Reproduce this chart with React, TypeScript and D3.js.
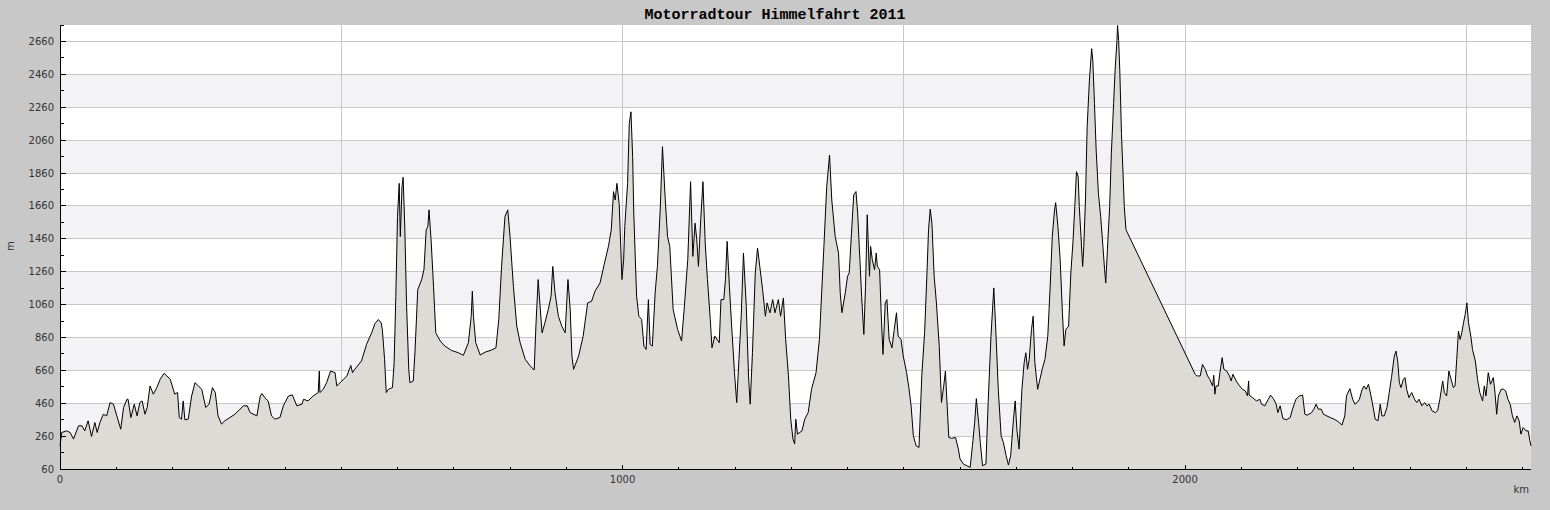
import * as d3 from "d3";
import React from "react";

// elevation profile in segments: [km, m]
const profileStart: [number, number][] = [
	[0, 201], [3, 282], [12, 292], [18, 282], [24, 242], [33, 323], [39, 323], [44, 292],
	[50, 353], [56, 258], [62, 343], [66, 282], [71, 343], [77, 393], [83, 383], [89, 464],
	[95, 454], [101, 383], [108, 302], [113, 434], [119, 484], [121, 484], [126, 373],
	[132, 454], [137, 383], [142, 464], [146, 474], [151, 393], [155, 434], [160, 565],
	[166, 515], [172, 555], [178, 605], [185, 642], [190, 626], [196, 605], [204, 515],
	[209, 525], [212, 373], [216, 363], [219, 474], [222, 359], [228, 363], [234, 504],
	[240, 585], [246, 565], [252, 545], [259, 434], [265, 454], [271, 555], [276, 525],
	[281, 383], [287, 333], [293, 353], [302, 373], [311, 393], [320, 424], [326, 444],
	[333, 444], [338, 403], [350, 383], [356, 504], [359, 519], [364, 494], [370, 474],
	[376, 383], [382, 363], [391, 373], [397, 444], [406, 504], [413, 511], [421, 444],
	[430, 454], [433, 484], [441, 474], [450, 504], [459, 525], [461, 656], [462, 525],
	[468, 545], [474, 585], [481, 656], [489, 646], [492, 565], [501, 595], [510, 626],
	[517, 690], [520, 646],
];

const profileAlps1: [number, number][] = [
	[524, 666], [536, 717], [545, 818], [554, 888], [560, 945], [566, 969], [571, 949],
	[573, 909], [577, 727], [580, 525], [584, 545], [591, 555], [594, 706], [597, 1110],
	[600, 1595], [603, 1797], [605, 1474], [608, 1777], [610, 1834], [613, 1525], [616, 1070],
	[620, 666], [622, 585], [628, 595], [631, 767], [636, 1151], [643, 1212], [647, 1272],
	[651, 1515], [654, 1535], [656, 1636], [660, 1434], [664, 1171], [668, 888], [676, 838],
	[684, 808], [696, 781], [708, 767], [717, 751], [726, 828], [731, 989], [733, 1141],
	[735, 989], [739, 828], [747, 753], [756, 771], [767, 783], [775, 797], [780, 969],
	[785, 1292], [791, 1595], [796, 1636], [800, 1474], [806, 1171], [812, 929], [818, 828],
	[827, 727], [836, 686], [843, 662], [846, 929], [850, 1212], [853, 1070], [857, 888],
	[862, 949], [868, 1030], [873, 1111], [876, 1292], [880, 1131], [886, 989], [892, 929],
	[898, 888], [903, 1212], [907, 1030], [910, 747], [913, 666], [922, 747], [930, 868],
	[938, 1070], [945, 1080], [951, 1141], [960, 1191], [968, 1313], [975, 1414], [980, 1515],
	[984, 1747], [987, 1696], [990, 1797], [994, 1676],
];

const profileAlps2: [number, number][] = [
	[999, 1212], [1002, 1333], [1004, 1535], [1009, 1797], [1012, 2161], [1015, 2232],
	[1018, 1959], [1020, 1616], [1025, 1111], [1029, 989], [1034, 969], [1038, 807],
	[1042, 787], [1046, 1090], [1049, 818], [1053, 807], [1058, 1131], [1062, 1292],
	[1067, 1636], [1071, 2020], [1076, 1696], [1080, 1474], [1084, 1414], [1090, 1030],
	[1098, 908], [1105, 838], [1110, 1050], [1116, 1333], [1121, 1807], [1125, 1353],
	[1129, 1555], [1132, 1454], [1135, 1292], [1139, 1575], [1143, 1807], [1147, 1434],
	[1151, 1212], [1156, 969], [1159, 797], [1164, 868], [1172, 828], [1175, 1090],
	[1180, 1090], [1183, 1212], [1186, 1444], [1190, 1171], [1194, 929], [1199, 646],
	[1203, 464], [1207, 727], [1211, 989], [1215, 1373], [1220, 1050], [1224, 626],
	[1227, 454], [1231, 767], [1236, 1252], [1240, 1404], [1244, 1292], [1249, 1151],
	[1254, 989], [1257, 1070], [1262, 1010], [1267, 1090], [1271, 1010], [1277, 1090],
	[1281, 989], [1286, 1100], [1290, 848], [1295, 626], [1299, 363], [1303, 242],
	[1306, 212], [1308, 363], [1311, 272], [1319, 292], [1324, 363], [1330, 403],
	[1336, 545], [1344, 646], [1350, 848], [1354, 1131], [1358, 1414], [1363, 1777],
	[1368, 1969], [1372, 1696], [1378, 1474], [1384, 1373], [1387, 1131], [1390, 1010],
	[1396, 1131], [1400, 1232], [1403, 1252], [1407, 1494], [1411, 1727], [1415, 1747],
	[1418, 1616], [1422, 1333], [1425, 1111], [1429, 878], [1432, 1171], [1435, 1606],
	[1439, 1232], [1441, 1414], [1444, 1333], [1448, 1272], [1451, 1373], [1453, 1292],
	[1457, 1272], [1460, 989], [1463, 757], [1467, 1070], [1470, 1090], [1474, 848],
	[1479, 797], [1483, 908], [1487, 1010],
];

const profileAlps3: [number, number][] = [
	[1490, 868], [1495, 848], [1499, 747], [1505, 646], [1509, 555], [1513, 444], [1517, 262],
	[1522, 201], [1527, 191], [1532, 626], [1537, 888], [1541, 1232], [1544, 1515],
	[1547, 1640], [1550, 1555], [1554, 1232], [1558, 1070], [1563, 807], [1567, 464],
	[1571, 565], [1574, 656], [1578, 383], [1580, 252], [1585, 246], [1592, 252], [1597, 181],
	[1600, 121], [1606, 90], [1612, 80], [1618, 70], [1622, 201], [1626, 343], [1629, 488],
	[1633, 343], [1636, 222], [1640, 80], [1646, 90], [1650, 464], [1655, 868], [1660, 1161],
	[1663, 949], [1668, 545], [1673, 262], [1677, 222], [1682, 141], [1686, 84], [1690, 141],
	[1695, 363], [1698, 474], [1701, 302], [1705, 181], [1710, 545], [1714, 706], [1717, 767],
	[1720, 666], [1723, 727], [1727, 908], [1730, 989], [1733, 706], [1738, 545], [1742, 606],
	[1746, 666], [1751, 727], [1756, 868], [1760, 1151], [1764, 1474], [1768, 1636],
	[1770, 1680], [1774, 1535], [1778, 1333], [1782, 1010], [1785, 808], [1788, 908],
	[1793, 929], [1797, 1252], [1801, 1454],
];

const profileAlps4: [number, number][] = [
	[1804, 1656], [1807, 1868], [1810, 1838], [1812, 1656], [1815, 1474], [1818, 1292],
	[1820, 1414], [1823, 1696], [1826, 2141], [1830, 2424], [1834, 2616], [1836, 2545],
	[1839, 2282], [1842, 1999], [1846, 1737], [1850, 1595], [1854, 1414], [1857, 1272],
	[1859, 1191], [1862, 1393], [1866, 1656], [1869, 1979], [1873, 2282], [1876, 2505],
	[1879, 2666], [1880, 2757], [1882, 2666], [1884, 2484], [1887, 2100], [1892, 1656],
	[1895, 1515], [2018, 636], [2021, 626], [2027, 626], [2031, 696], [2036, 666], [2040, 626],
];

const profileHome: [number, number][] = [
	[2044, 605], [2049, 565], [2051, 630], [2053, 515], [2055, 565], [2059, 565], [2062, 646],
	[2066, 737], [2069, 666], [2074, 656], [2079, 626], [2082, 595], [2085, 636], [2091, 595],
	[2097, 565], [2102, 545], [2107, 535], [2111, 504], [2113, 595], [2114, 509], [2120, 494],
	[2127, 474], [2133, 484], [2136, 454], [2142, 444], [2148, 484], [2152, 509], [2157, 488],
	[2162, 454], [2165, 403], [2169, 444], [2174, 367], [2180, 359], [2187, 373], [2191, 424],
	[2197, 484], [2203, 504], [2209, 509], [2213, 393], [2217, 387], [2225, 403], [2229, 424],
	[2233, 454], [2237, 424], [2242, 424], [2246, 393], [2252, 383], [2258, 373], [2265, 363],
	[2270, 353], [2274, 343], [2279, 327], [2284, 383], [2287, 504], [2293, 549], [2298, 484],
	[2302, 454], [2306, 464], [2310, 484], [2314, 535], [2318, 565], [2322, 545], [2326, 575],
	[2330, 515], [2335, 424], [2338, 363], [2343, 353], [2347, 454], [2350, 383], [2354, 383],
	[2359, 434], [2363, 525], [2367, 616], [2372, 747], [2375, 777], [2378, 717], [2381, 585],
	[2384, 555], [2388, 605], [2391, 616], [2394, 545], [2398, 494], [2403, 525], [2408, 484],
	[2412, 464], [2416, 484], [2421, 444], [2426, 464], [2430, 444], [2434, 454], [2439, 414],
	[2445, 403], [2449, 414], [2453, 484], [2458, 595], [2461, 525], [2465, 504], [2469, 656],
	[2473, 605], [2477, 555], [2480, 565], [2483, 727], [2486, 898], [2489, 848], [2492, 888],
	[2495, 949], [2498, 999], [2501, 1070], [2504, 949], [2508, 868], [2511, 787], [2516, 717],
	[2520, 605], [2524, 525], [2529, 474], [2532, 565], [2535, 504], [2539, 646], [2543, 575],
	[2548, 616], [2551, 525], [2554, 393], [2557, 504], [2562, 545], [2566, 545], [2570, 535],
	[2574, 484], [2578, 454], [2582, 383], [2586, 343], [2590, 383], [2594, 353], [2597, 272],
	[2601, 312], [2606, 292], [2610, 292], [2613, 232], [2615, 201],
];

const yTicks = [60, 260, 460, 660, 860, 1060, 1260, 1460, 1660, 1860, 2060, 2260, 2460, 2660];
const xLabelTicks = [0, 1000, 2000];
const xGridTicks = [500, 1000, 1500, 2000, 2500];

const title = "Motorradtour Himmelfahrt 2011";

const W = 1550,
	H = 510;
const margin = { top: 25, right: 19, bottom: 40, left: 60 };

const App = () => {
	const data = [
		...profileStart,
		...profileAlps1,
		...profileAlps2,
		...profileAlps3,
		...profileAlps4,
		...profileHome,
	];

	const x = d3
		.scaleLinear()
		.domain([0, 2615])
		.range([margin.left, W - margin.right]);
	const y = d3
		.scaleLinear()
		.domain([60, 2760])
		.range([H - margin.bottom - 1, margin.top]);

	const crisp = (v: number) => Math.floor(v) + 0.5;

	const area = d3
		.area<[number, number]>()
		.x((d) => x(d[0]))
		.y0(y(60))
		.y1((d) => y(d[1]));
	const line = d3
		.line<[number, number]>()
		.x((d) => x(d[0]))
		.y((d) => y(d[1]));

	const minorY = d3.range(160, 2761, 200);
	const minorX = d3.range(0, 2615, 100).filter((v) => v % 1000 !== 0);
	const x0 = margin.left + 0.5;
	const yb = H - margin.bottom - 0.5;

	return (
		<div style={{ position: "absolute", left: 0, top: 0 }}>
			<svg width={W} height={H} style={{ display: "block" }}>
				<rect width={W} height={H} fill="#c8c8c8" />
				<rect
					x={margin.left}
					y={margin.top}
					width={W - margin.left - margin.right}
					height={H - margin.top - margin.bottom}
					fill="#ffffff"
				/>
				{yTicks.slice(0, -1).map((t, i) =>
					i % 2 === 1 ? (
						<rect
							key={"band" + t}
							x={margin.left}
							y={Math.floor(y(t + 200))}
							width={W - margin.left - margin.right}
							height={Math.floor(y(t)) - Math.floor(y(t + 200))}
							fill="#f3f2f5"
						/>
					) : null
				)}
				{yTicks.slice(1).map((t) => (
					<line
						key={"gy" + t}
						x1={margin.left}
						x2={W - margin.right}
						y1={crisp(y(t))}
						y2={crisp(y(t))}
						stroke="#c8c8c8"
					/>
				))}
				{xGridTicks.map((t) => (
					<line
						key={"gx" + t}
						x1={crisp(x(t))}
						x2={crisp(x(t))}
						y1={margin.top}
						y2={H - margin.bottom}
						stroke="#c8c8c8"
					/>
				))}
				<path d={area(data) ?? ""} fill="#dcdbd6" />
				<path d={line(data) ?? ""} fill="none" stroke="#000" strokeWidth={1} />

				{/* axes */}
				<line x1={x0} x2={x0} y1={margin.top} y2={H - margin.bottom} stroke="#000" />
				<line x1={margin.left} x2={W - margin.right} y1={yb} y2={yb} stroke="#000" />
				{yTicks.map((t) => (
					<g key={"ty" + t}>
						<line
							x1={margin.left}
							x2={margin.left + 6}
							y1={crisp(y(t))}
							y2={crisp(y(t))}
							stroke="#000"
						/>
						<text
							x={54}
							y={y(t) + 3.5}
							textAnchor="end"
							fontFamily="DejaVu Sans"
							fontSize={10}
							fill="#333"
						>
							{t}
						</text>
					</g>
				))}
				{minorY.map((t) => (
					<line
						key={"my" + t}
						x1={margin.left}
						x2={margin.left + 4}
						y1={crisp(y(t))}
						y2={crisp(y(t))}
						stroke="#000"
					/>
				))}
				{xLabelTicks.map((t) => (
					<g key={"tx" + t}>
						<line
							x1={crisp(x(t))}
							x2={crisp(x(t))}
							y1={H - margin.bottom - 5}
							y2={H - margin.bottom}
							stroke="#000"
						/>
						<text
							x={x(t)}
							y={483}
							textAnchor="middle"
							fontFamily="DejaVu Sans"
							fontSize={10}
							fill="#333"
						>
							{t}
						</text>
					</g>
				))}
				{minorX.map((t) => (
					<line
						key={"mx" + t}
						x1={crisp(x(t))}
						x2={crisp(x(t))}
						y1={H - margin.bottom - 3}
						y2={H - margin.bottom}
						stroke="#000"
					/>
				))}
				<text
					x={1529}
					y={492.5}
					textAnchor="end"
					fontFamily="DejaVu Sans"
					fontSize={10}
					fill="#333"
				>
					km
				</text>
				<text
					transform="translate(14,246) rotate(-90)"
					textAnchor="middle"
					fontFamily="DejaVu Sans"
					fontSize={10}
					fill="#333"
				>
					m
				</text>
				<text
					x={W / 2}
					y={18.5}
					textAnchor="middle"
					fontFamily="Liberation Mono"
					fontWeight="bold"
					fontSize={15}
					fill="#000"
				>
					{title}
				</text>
			</svg>
		</div>
	);
};

export default App;
